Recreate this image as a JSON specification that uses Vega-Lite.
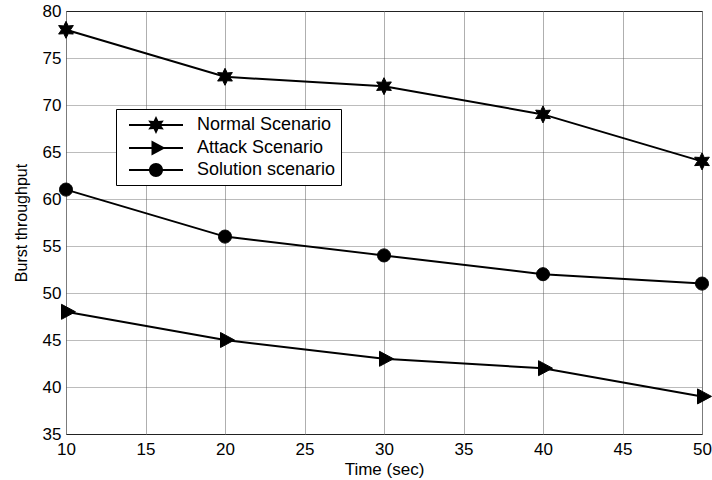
{
  "$schema": "https://vega.github.io/schema/vega-lite/v6.json",
  "autosize": {"type": "none"},
  "width": 636,
  "height": 423,
  "padding": {"left": 66, "top": 11, "right": 10, "bottom": 46},
  "background": "white",
  "config": {
    "view": {"stroke": "black", "strokeWidth": 1},
    "font": "Liberation Sans",
    "axis": {
      "labelFont": "Liberation Sans",
      "titleFont": "Liberation Sans",
      "labelColor": "black",
      "titleColor": "black",
      "titleFontWeight": "normal",
      "domain": false,
      "ticks": false
    }
  },
  "data": {
    "values": [
      {"time": 10, "throughput": 78, "scenario": "Normal Scenario"},
      {"time": 20, "throughput": 73, "scenario": "Normal Scenario"},
      {"time": 30, "throughput": 72, "scenario": "Normal Scenario"},
      {"time": 40, "throughput": 69, "scenario": "Normal Scenario"},
      {"time": 50, "throughput": 64, "scenario": "Normal Scenario"},
      {"time": 10, "throughput": 48, "scenario": "Attack Scenario"},
      {"time": 20, "throughput": 45, "scenario": "Attack Scenario"},
      {"time": 30, "throughput": 43, "scenario": "Attack Scenario"},
      {"time": 40, "throughput": 42, "scenario": "Attack Scenario"},
      {"time": 50, "throughput": 39, "scenario": "Attack Scenario"},
      {"time": 10, "throughput": 61, "scenario": "Solution scenario"},
      {"time": 20, "throughput": 56, "scenario": "Solution scenario"},
      {"time": 30, "throughput": 54, "scenario": "Solution scenario"},
      {"time": 40, "throughput": 52, "scenario": "Solution scenario"},
      {"time": 50, "throughput": 51, "scenario": "Solution scenario"}
    ]
  },
  "encoding": {
    "x": {
      "field": "time",
      "type": "quantitative",
      "scale": {"domain": [10, 50], "nice": false, "zero": false},
      "axis": {
        "title": "Time (sec)",
        "values": [10, 15, 20, 25, 30, 35, 40, 45, 50],
        "labelFontSize": 17,
        "titleFontSize": 17,
        "labelPadding": 7,
        "titlePadding": 4,
        "labelFlush": false,
        "grid": true,
        "gridColor": "#9a9a9a",
        "gridWidth": 0.8
      }
    },
    "y": {
      "field": "throughput",
      "type": "quantitative",
      "scale": {"domain": [35, 80], "nice": false, "zero": false},
      "axis": {
        "title": "Burst throughput",
        "values": [35, 40, 45, 50, 55, 60, 65, 70, 75, 80],
        "labelFontSize": 17,
        "titleFontSize": 16,
        "labelPadding": 5,
        "titlePadding": 13,
        "labelFlush": false,
        "grid": true,
        "gridColor": "#555555",
        "gridWidth": 0.8,
        "gridDash": [1, 1]
      }
    }
  },
  "resolve": {"scale": {"shape": "independent"}, "legend": {"shape": "independent"}},
  "layer": [
    {
      "mark": {"type": "line", "color": "black", "strokeWidth": 2},
      "encoding": {"detail": {"field": "scenario", "type": "nominal"}}
    },
    {
      "mark": {"type": "point", "filled": true, "color": "black", "stroke": "black", "strokeWidth": 1, "opacity": 1, "size": 400},
      "encoding": {
        "shape": {
          "field": "scenario",
          "type": "nominal",
          "scale": {
            "domain": ["Normal Scenario", "Attack Scenario", "Solution scenario"],
            "range": [
              "M0,-0.85L0.225,-0.39L0.736,-0.425L0.45,0L0.736,0.425L0.225,0.39L0,0.85L-0.225,0.39L-0.736,0.425L-0.45,0L-0.736,-0.425L-0.225,-0.39Z",
              "M-0.45,-0.75L0.95,0L-0.45,0.75Z",
              "M0.65,0A0.65,0.65,0,1,1,-0.65,0A0.65,0.65,0,1,1,0.65,0Z"
            ]
          },
          "legend": null
        }
      }
    },
    {
      "mark": {"type": "point", "filled": true, "color": "black", "opacity": 0, "size": 400},
      "encoding": {
        "shape": {
          "field": "scenario",
          "type": "nominal",
          "scale": {
            "domain": ["Normal Scenario", "Attack Scenario", "Solution scenario"],
            "range": [
              "M-2.7,-0.1L2.7,-0.1L2.7,0.1L-2.7,0.1ZM0,-0.9L0.24,-0.41L0.78,-0.45L0.48,0L0.78,0.45L0.24,0.41L0,0.9L-0.24,0.41L-0.78,0.45L-0.48,0L-0.78,-0.45L-0.24,-0.41Z",
              "M-2.7,-0.1L2.7,-0.1L2.7,0.1L-2.7,0.1ZM-0.45,-0.75L0.95,0L-0.45,0.75Z",
              "M-2.7,-0.1L2.7,-0.1L2.7,0.1L-2.7,0.1ZM0.7,0A0.7,0.7,0,1,1,-0.7,0A0.7,0.7,0,1,1,0.7,0Z"
            ]
          },
          "legend": {
            "title": null,
            "orient": "none",
            "legendX": 50,
            "legendY": 98,
            "fillColor": "white",
            "strokeColor": "black",
            "cornerRadius": 0,
            "padding": 5,
            "rowPadding": -1.5,
            "symbolSize": 400,
            "symbolOffset": 24,
            "labelOffset": 30,
            "labelFont": "Liberation Sans",
            "labelFontSize": 18,
            "labelColor": "black",
            "labelLimit": 300,
            "symbolFillColor": "black",
            "symbolStrokeColor": "black",
            "symbolOpacity": 1
          }
        }
      }
    }
  ]
}
